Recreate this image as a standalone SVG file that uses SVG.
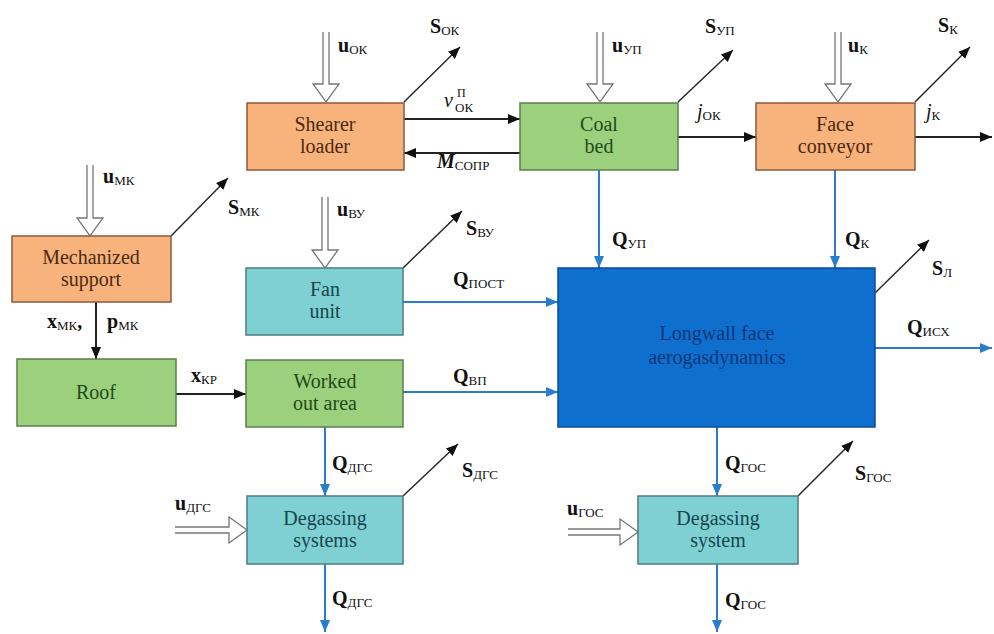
<svg xmlns="http://www.w3.org/2000/svg" width="994" height="634" viewBox="0 0 994 634">
<defs>
<marker id="ab" viewBox="0 0 12 10" refX="12" refY="5" markerWidth="12" markerHeight="10" markerUnits="userSpaceOnUse" orient="auto"><path d="M0,0 L12,5 L0,10 Z" fill="#111"/></marker>
<marker id="abl" viewBox="0 0 12 10" refX="12" refY="5" markerWidth="12" markerHeight="10" markerUnits="userSpaceOnUse" orient="auto"><path d="M0,0 L12,5 L0,10 Z" fill="#2a7ccc"/></marker>
<style>
text{font-family:"Liberation Serif","Times New Roman",serif}
.box{stroke-width:1.5}
.or{fill:#f8b37c;stroke:#8a5a3a}
.gr{fill:#9bd07c;stroke:#5e7e4c}
.cy{fill:#7fd0d2;stroke:#4e7c80}
.bl{fill:#0f6fcf;stroke:#0a4d99}
.lab{font-family:"Liberation Serif","Times New Roman",serif;font-size:20px;text-anchor:middle}
.tor{fill:#4a2a12}.tgr{fill:#1f4a1a}.tcy{fill:#16464c}.tbl{fill:#0b3778}
.k{stroke:#222;stroke-width:1.4;fill:none;marker-end:url(#ab)}
.kt{stroke:#222;stroke-width:2;fill:none;marker-end:url(#ab)}
.q{stroke:#2a7ccc;stroke-width:2;fill:none;marker-end:url(#abl)}
.u{stroke:#777;stroke-width:1.3;fill:#fff}
.sym{font-size:20px;font-weight:bold;fill:#111}
.it{font-size:20px;font-style:italic;fill:#111}
.sub{font-size:13px;font-weight:normal;font-style:normal}
</style>
</defs>

<g id="connectors">
<!-- hollow input arrows -->
<path class="u" d="M323,32 V84 H313 L326,102 L339,84 H329 V32"/>
<path class="u" d="M597,32 V84 H587 L600,102 L613,84 H603 V32"/>
<path class="u" d="M835,32 V84 H825 L838,102 L851,84 H841 V32"/>
<path class="u" d="M87,165 V218 H77 L90,236 L103,218 H93 V165"/>
<path class="u" d="M322,197 V250 H312 L325,268 L338,250 H328 V197"/>
<path class="u" d="M175,527 H229 V517 L247,530 L229,543 V533 H175"/>
<path class="u" d="M568,529 H620 V519 L638,532 L620,545 V535 H568"/>
<!-- state outputs S -->
<line class="k" x1="404" y1="102" x2="460" y2="47"/>
<line class="k" x1="678" y1="102" x2="733" y2="50"/>
<line class="k" x1="915" y1="102" x2="970" y2="47"/>
<line class="k" x1="171" y1="236" x2="228" y2="178"/>
<line class="k" x1="403" y1="268" x2="462" y2="211"/>
<line class="k" x1="875" y1="293" x2="929" y2="240"/>
<line class="k" x1="403" y1="496" x2="458" y2="444"/>
<line class="k" x1="798" y1="496" x2="853" y2="441"/>
<!-- black flows -->
<line class="kt" x1="404" y1="119" x2="520" y2="119"/>
<line class="kt" x1="520" y1="153" x2="404" y2="153"/>
<line class="kt" x1="678" y1="137" x2="756" y2="137"/>
<line class="kt" x1="915" y1="137" x2="992" y2="137"/>
<line class="kt" x1="96" y1="302" x2="96" y2="359"/>
<line class="kt" x1="176" y1="394" x2="246" y2="394"/>
<!-- blue flows -->
<line class="q" x1="599" y1="170" x2="599" y2="268"/>
<line class="q" x1="835" y1="170" x2="835" y2="268"/>
<line class="q" x1="403" y1="302" x2="558" y2="302"/>
<line class="q" x1="403" y1="392" x2="558" y2="392"/>
<line class="q" x1="875" y1="348" x2="992" y2="348"/>
<line class="q" x1="325" y1="427" x2="325" y2="496"/>
<line class="q" x1="325" y1="564" x2="325" y2="632"/>
<line class="q" x1="717" y1="427" x2="717" y2="496"/>
<line class="q" x1="717" y1="564" x2="717" y2="632"/>
</g>

<g id="labels">
<text class="sym" x="338" y="52">u<tspan class="sub" dy="2">ОК</tspan></text>
<text class="sym" x="430" y="33">S<tspan class="sub" dy="2">ОК</tspan></text>
<text class="it" x="444" y="107">v</text>
<text x="457" y="97" style="font-size:12px;fill:#111">П</text>
<text x="455" y="112" style="font-size:13px;fill:#111">ОК</text>
<text class="it" x="437" y="168" style="font-weight:bold">M<tspan class="sub" dy="2">СОПР</tspan></text>
<text class="sym" x="612" y="52">u<tspan class="sub" dy="2">УП</tspan></text>
<text class="sym" x="705" y="33">S<tspan class="sub" dy="2">УП</tspan></text>
<text class="it" x="697" y="118">j<tspan class="sub" dy="2">ОК</tspan></text>
<text class="sym" x="848" y="52">u<tspan class="sub" dy="2">К</tspan></text>
<text class="sym" x="938" y="32">S<tspan class="sub" dy="2">К</tspan></text>
<text class="it" x="926" y="118">j<tspan class="sub" dy="2">К</tspan></text>
<text class="sym" x="103" y="183">u<tspan class="sub" dy="2">МК</tspan></text>
<text class="sym" x="228" y="214">S<tspan class="sub" dy="2">МК</tspan></text>
<text class="sym" x="337" y="216">u<tspan class="sub" dy="2">ВУ</tspan></text>
<text class="sym" x="466" y="235">S<tspan class="sub" dy="2">ВУ</tspan></text>
<text class="sym" x="47" y="328">x<tspan class="sub" dy="2">МК</tspan><tspan dy="-2">,</tspan></text>
<text class="sym" x="107" y="328">p<tspan class="sub" dy="2">МК</tspan></text>
<text class="sym" x="191" y="382">x<tspan class="sub" dy="2">КР</tspan></text>
<text class="sym" x="612" y="246">Q<tspan class="sub" dy="2">УП</tspan></text>
<text class="sym" x="845" y="246">Q<tspan class="sub" dy="2">К</tspan></text>
<text class="sym" x="453" y="286">Q<tspan class="sub" dy="2">ПОСТ</tspan></text>
<text class="sym" x="453" y="383">Q<tspan class="sub" dy="2">ВП</tspan></text>
<text class="sym" x="932" y="275">S<tspan class="sub" dy="2">Л</tspan></text>
<text class="sym" x="907" y="334">Q<tspan class="sub" dy="2">ИСХ</tspan></text>
<text class="sym" x="332" y="470">Q<tspan class="sub" dy="2">ДГС</tspan></text>
<text class="sym" x="462" y="477">S<tspan class="sub" dy="2">ДГС</tspan></text>
<text class="sym" x="175" y="510">u<tspan class="sub" dy="2">ДГС</tspan></text>
<text class="sym" x="332" y="605">Q<tspan class="sub" dy="2">ДГС</tspan></text>
<text class="sym" x="725" y="470">Q<tspan class="sub" dy="2">ГОС</tspan></text>
<text class="sym" x="855" y="480">S<tspan class="sub" dy="2">ГОС</tspan></text>
<text class="sym" x="567" y="515">u<tspan class="sub" dy="2">ГОС</tspan></text>
<text class="sym" x="725" y="607">Q<tspan class="sub" dy="2">ГОС</tspan></text>
</g>

<g id="shearer-loader"><rect class="box or" x="247" y="103" width="157" height="67"/><text class="lab tor" x="325" y="131">Shearer</text><text class="lab tor" x="325" y="153">loader</text></g>
<g id="coal-bed"><rect class="box gr" x="520" y="103" width="158" height="67"/><text class="lab tgr" x="599" y="131">Coal</text><text class="lab tgr" x="599" y="153">bed</text></g>
<g id="face-conveyor"><rect class="box or" x="756" y="103" width="159" height="67"/><text class="lab tor" x="835" y="131">Face</text><text class="lab tor" x="835" y="153">conveyor</text></g>
<g id="mechanized-support"><rect class="box or" x="12" y="236" width="159" height="66"/><text class="lab tor" x="91" y="264">Mechanized</text><text class="lab tor" x="91" y="286">support</text></g>
<g id="fan-unit"><rect class="box cy" x="246" y="268" width="157" height="67"/><text class="lab tcy" x="325" y="296">Fan</text><text class="lab tcy" x="325" y="318">unit</text></g>
<g id="roof"><rect class="box gr" x="17" y="359" width="159" height="67"/><text class="lab tgr" x="96" y="399">Roof</text></g>
<g id="worked-out-area"><rect class="box gr" x="246" y="360" width="157" height="67"/><text class="lab tgr" x="325" y="388">Worked</text><text class="lab tgr" x="325" y="410">out area</text></g>
<g id="longwall-face"><rect class="box bl" x="558" y="268" width="317" height="159"/><text class="lab tbl" x="717" y="340">Longwall face</text><text class="lab tbl" x="717" y="364">aerogasdynamics</text></g>
<g id="degassing-systems"><rect class="box cy" x="247" y="496" width="156" height="68"/><text class="lab tcy" x="325" y="525">Degassing</text><text class="lab tcy" x="325" y="547">systems</text></g>
<g id="degassing-system"><rect class="box cy" x="638" y="496" width="160" height="68"/><text class="lab tcy" x="718" y="525">Degassing</text><text class="lab tcy" x="718" y="547">system</text></g>
</svg>
